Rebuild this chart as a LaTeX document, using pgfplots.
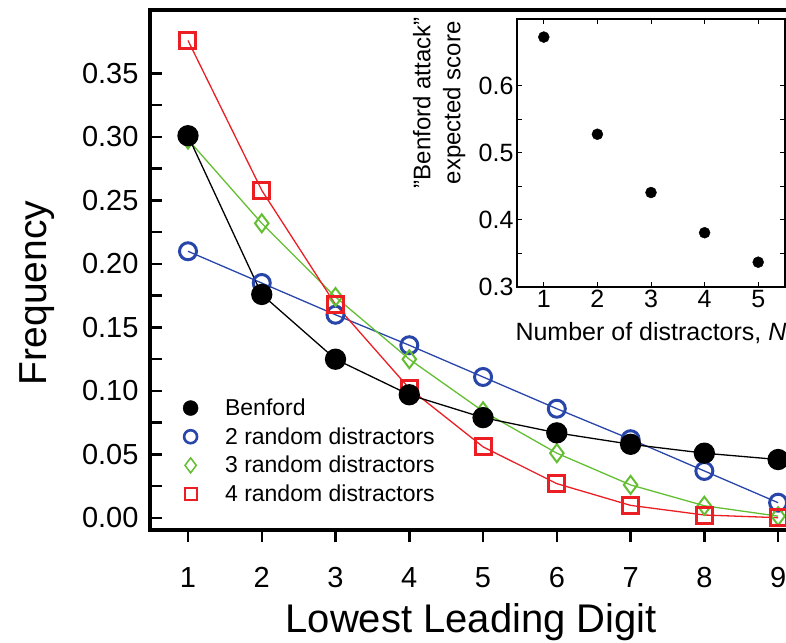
\documentclass[border=0pt]{standalone}
\usepackage{fontspec}
\setmainfont{Liberation Sans}
\usepackage{pgfplots}
\pgfplotsset{compat=1.18}
\definecolor{bblue}{RGB}{40,70,170}
\definecolor{bgreen}{RGB}{100,190,50}
\definecolor{bred}{RGB}{235,30,35}

\begin{document}
\begin{tikzpicture}
% main panel
\begin{axis}[
  at={(150bp,113bp)}, anchor=south west,
  scale only axis, width=665bp, height=520bp,
  xmin=0.485, xmax=9.5, ymin=-0.0095, ymax=0.4,
  xtick={1,2,3,4,5,6,7,8,9},
  ytick={0,0.05,0.10,0.15,0.20,0.25,0.30,0.35},
  minor y tick num=1,
  xtick pos=bottom, ytick pos=left,
  xtick align=outside, ytick align=inside,
  major tick length=12bp, minor tick length=12bp,
  tick style={line width=2.5bp, black},
  axis line style={line width=4bp},
  /pgf/number format/assume math mode=true,
  ticklabel style={font=\fontsize{29bp}{34bp}\selectfont},
  yticklabel style={/pgf/number format/.cd, fixed, fixed zerofill, precision=2, /tikz/.cd, xshift=-8bp},
  xticklabel style={yshift=-22bp},
  xlabel={Lowest Leading Digit},
  ylabel={Frequency},
  every axis x label/.style={at={(axis description cs:0.483,-0.177)}, anchor=center,
    font=\fontsize{40bp}{48bp}\selectfont},
  every axis y label/.style={at={(axis description cs:-0.17,0.456)}, rotate=90, anchor=center,
    font=\fontsize{39bp}{47bp}\selectfont},
  legend style={at={(axis description cs:0.045,0.26)}, anchor=north west,
    draw=none, fill=none, font=\fontsize{23bp}{27bp}\selectfont,
    row sep=6.5bp, /tikz/every odd column/.append style={column sep=25bp}},
  legend cell align=left,
]
\addlegendimage{only marks, mark=*, black, mark size=7.5bp}
\addlegendentry{Benford}
\addlegendimage{only marks, mark=o, bblue, mark size=6.5bp, mark options={line width=2.6bp}}
\addlegendentry{2 random distractors}
\addlegendimage{only marks, mark=diamond, bgreen, mark size=7.5bp, mark options={line width=1.5bp}}
\addlegendentry{3 random distractors}
\addlegendimage{only marks, mark=square, bred, mark size=6bp, mark options={line width=2bp}}
\addlegendentry{4 random distractors}

\addplot[bblue, line width=1.3bp, mark=o, mark size=8.5bp, mark options={line width=3bp}, forget plot]
  coordinates {(1,0.210) (2,0.185) (3,0.160) (4,0.136) (5,0.111) (6,0.086) (7,0.062) (8,0.037) (9,0.012)};
\addplot[bgreen, line width=1.3bp, mark=diamond, mark size=9bp, mark options={line width=2bp}, forget plot]
  coordinates {(1,0.298) (2,0.232) (3,0.174) (4,0.125) (5,0.084) (6,0.051) (7,0.026) (8,0.0096) (9,0.0014)};
\addplot[bred, line width=1.3bp, mark=square, mark size=8bp, mark options={line width=3bp}, forget plot]
  coordinates {(1,0.376) (2,0.258) (3,0.168) (4,0.102) (5,0.056) (6,0.027) (7,0.0099) (8,0.0023) (9,0.0002)};
\addplot[black, line width=1.3bp, mark=*, mark size=10bp, forget plot]
  coordinates {(1,0.301) (2,0.176) (3,0.125) (4,0.097) (5,0.079) (6,0.067) (7,0.058) (8,0.051) (9,0.046)};
\end{axis}

% inset
\begin{axis}[
  at={(517bp,356bp)}, anchor=south west,
  scale only axis, width=268bp, height=268bp,
  xmin=0.5, xmax=5.5, ymin=0.3, ymax=0.7,
  xtick={1,2,3,4,5}, ytick={0.3,0.4,0.5,0.6},
  minor y tick num=1,
  tick align=inside,
  major tick length=5bp, minor tick length=5bp,
  tick style={line width=1bp, black},
  axis line style={line width=1.3bp},
  axis background/.style={fill=white},
  /pgf/number format/assume math mode=true,
  yticklabel style={/pgf/number format/.cd, fixed, fixed zerofill, precision=1},
  ticklabel style={font=\fontsize{25bp}{30bp}\selectfont},
  xlabel={Number of distractors, \textit{N}},
  ylabel={"Benford attack"\\expected score},
  every axis x label/.style={at={(axis description cs:0.5,-0.172)}, anchor=center,
    font=\fontsize{25bp}{30bp}\selectfont},
  every axis y label/.style={at={(axis description cs:-0.29,0.687)}, rotate=90, anchor=center,
    align=center, font=\fontsize{24bp}{30bp}\selectfont},
]
\addplot[only marks, mark=*, black, mark size=5.5bp]
  coordinates {(1,0.673) (2,0.528) (3,0.441) (4,0.381) (5,0.337)};
\end{axis}

\pgfresetboundingbox
\path[use as bounding box] (0,0) rectangle (786bp,643bp);
\end{tikzpicture}
\end{document}
